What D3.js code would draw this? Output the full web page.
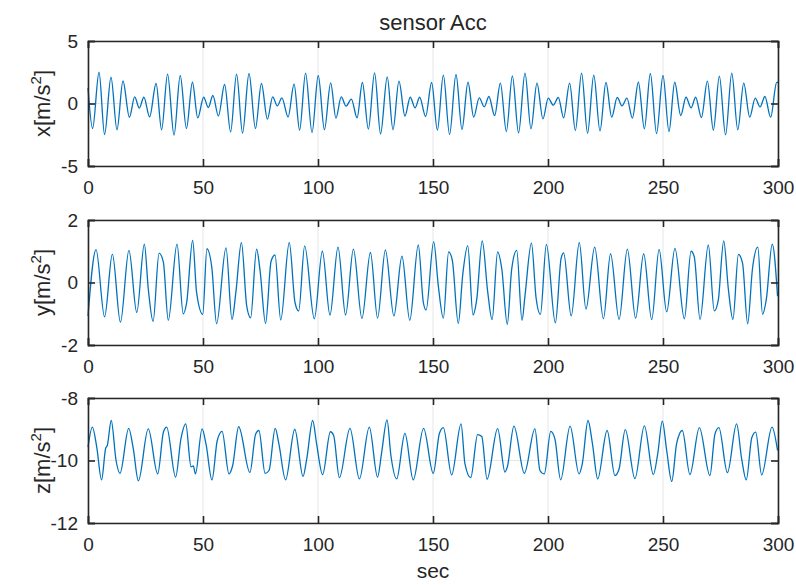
<!DOCTYPE html>
<html>
<head>
<meta charset="utf-8">
<script src="https://cdn.jsdelivr.net/npm/d3@7"></script>
<style>
  body { margin: 0; background: #fff; }
  text { font-family: "Liberation Sans", Arial, Helvetica, sans-serif; fill: #262626; }
</style>
</head>
<body>
<div class="chart"></div>
<script>
// sensor Acc - three stacked panels (peaks, troughs, shoulders)

// x axis ticks (sec)
var secTicks = [0, 50, 100, 150, 200, 250, 300];

// y ticks for each panel
var accXTicks = [-5, 0, 5];
var accYTicks = [-2, 0, 2];
var accZTicks = [-12, -10, -8];

// [sec, value] pairs
var accX = [[0,1.25],[2.0,-2.0],[4.8,2.5],[7.2,-2.48],[10.0,2.1],[12.6,-2.1],[15.2,1.8],[18.0,-1.1],[20.3,0.53],[22.3,-0.37],[24.3,0.5],[26.8,-1.07],[29.6,1.6],[32.0,-2.1],[34.6,2.35],[37.4,-2.53],[40.1,2.24],[42.8,-2.0],[45.4,1.7],[47.7,-1.15],[50.3,0.5],[52.3,-0.32],[54.3,0.64],[56.7,-1.0],[59.4,1.52],[62.0,-2.27],[64.6,2.35],[67.2,-2.37],[70.0,2.4],[72.8,-2.0],[75.4,1.6],[78.0,-1.25],[80.3,0.53],[82.3,-0.19],[84.3,0.45],[87.0,-1.07],[89.6,1.55],[92.0,-2.13],[94.6,2.43],[97.4,-2.32],[100.1,2.24],[102.8,-2.1],[105.5,1.65],[107.8,-1.17],[110.1,0.53],[112.2,-0.21],[114.5,0.35],[117.0,-1.15],[119.3,1.68],[121.9,-2.05],[124.6,2.45],[127.2,-2.43],[130.1,2.13],[132.6,-2.1],[135.2,1.79],[137.8,-1.0],[140.1,0.5],[142.2,-0.35],[144.2,0.5],[146.8,-1.04],[149.4,1.68],[151.9,-2.13],[154.5,2.27],[157.2,-2.48],[160.0,2.32],[162.6,-2.08],[165.2,1.7],[167.7,-1.09],[170.1,0.45],[172.3,-0.27],[174.3,0.56],[176.8,-0.96],[179.3,1.63],[181.9,-2.24],[184.5,2.21],[187.2,-2.35],[190.0,2.43],[192.6,-2.03],[195.2,1.63],[197.8,-1.23],[200.1,0.43],[202.3,-0.13],[204.5,0.48],[206.8,-1.15],[209.4,1.63],[211.9,-2.16],[214.6,2.43],[217.2,-2.37],[219.9,2.27],[222.6,-2.19],[225.2,1.68],[227.7,-1.09],[230.1,0.48],[232.2,-0.19],[234.3,0.43],[236.7,-1.17],[239.3,1.7],[241.9,-2.03],[244.5,2.4],[247.2,-2.4],[250.0,2.24],[252.6,-2.24],[255.1,1.7],[257.7,-0.96],[260.0,0.5],[262.2,-0.35],[264.2,0.5],[266.7,-1.12],[269.3,1.79],[271.9,-2.13],[274.5,2.19],[277.2,-2.51],[279.9,2.43],[282.5,-2.1],[285.1,1.63],[287.7,-1.09],[290.1,0.43],[292.2,-0.27],[294.3,0.56],[296.8,-1.09],[299.4,1.68],[300,1.7]];

var accY = [[0,-1.07],[3.5,1.05],[7.2,-1.1],[10.6,0.91],[14.1,-1.27],[17.8,1.03],[21.2,-0.96],[24.5,1.23],[26.2,-0.2],[28.3,-1.24],[30.9,0.94],[32.75,0.66],[34.9,-1.21],[38.7,1.23],[41.4,-1.0],[42.9,-0.64],[45.5,1.35],[47.2,-0.31],[49.9,-1.02],[51.7,1.08],[53.8,0.5],[55.9,-1.32],[60.0,1.11],[62.6,-1.18],[64.3,-0.31],[66.7,1.28],[69.0,-0.75],[70.7,-1.13],[73.3,1.07],[74.8,0.39],[77.2,-1.31],[79.6,0.68],[81.3,0.88],[83.8,-1.2],[87.5,1.28],[90.0,-0.64],[91.6,-0.91],[94.2,1.17],[98.4,-1.16],[101.9,1.0],[105.2,-1.04],[108.7,1.13],[112.0,-1.04],[115.4,1.07],[119.1,-1.15],[122.8,0.96],[125.9,-1.14],[129.3,1.04],[133.0,-1.07],[136.5,0.84],[139.9,-1.21],[143.6,1.2],[145.8,-0.64],[147.0,-0.88],[150.3,1.31],[152.3,-0.1],[154.5,-1.14],[156.8,0.98],[158.4,0.71],[161.0,-1.31],[162.9,0.23],[165.1,1.18],[167.4,-1.04],[169.0,-0.55],[171.4,1.33],[173.8,-0.31],[175.7,-1.19],[178.1,0.98],[179.9,0.44],[182.3,-1.34],[184.2,0.42],[186.4,1.03],[188.7,-1.21],[190.0,-0.42],[192.8,1.26],[194.8,-0.48],[196.7,-1.02],[199.3,1.22],[203.2,-1.29],[205.7,0.77],[206.8,0.95],[210.1,-1.07],[213.6,1.28],[216.5,-0.85],[220.3,1.13],[224.1,-1.16],[227.2,0.92],[230.9,-1.18],[234.5,1.07],[238.1,-1.14],[241.6,0.92],[245.1,-1.19],[248.3,1.06],[251.6,-0.94],[255.2,1.09],[259.3,-1.16],[262.2,1.0],[263.6,0.82],[266.1,-1.18],[269.7,1.2],[272.3,-0.91],[274.0,-0.58],[276.4,1.33],[278.4,-0.2],[280.4,-1.18],[282.8,0.9],[284.6,0.61],[286.8,-1.32],[288.9,0.44],[291.2,1.13],[293.3,-1.02],[294.9,-0.55],[297.5,1.23],[299.8,-0.44]];

var accZ = [[0,-9.57],[1.9,-8.93],[3.8,-9.57],[5.9,-10.62],[7.7,-9.6],[8.4,-9.52],[10.1,-8.72],[12.2,-10.0],[13.9,-10.41],[17.7,-8.97],[19.7,-9.63],[21.9,-10.65],[26.2,-8.99],[30.3,-10.43],[32.8,-9.09],[34.2,-8.93],[38.1,-10.53],[40.4,-9.31],[42.5,-8.83],[44.8,-10.2],[45.8,-10.17],[46.7,-10.43],[49.6,-8.99],[51.3,-9.47],[53.9,-10.62],[56.2,-9.36],[58.3,-9.07],[61.3,-10.43],[62.9,-10.16],[65.5,-8.92],[70.4,-10.38],[72.9,-9.15],[74.3,-9.04],[77.0,-10.41],[78.7,-10.32],[81.4,-8.97],[83.0,-9.47],[85.9,-10.62],[89.9,-9.0],[93.5,-10.51],[95.1,-9.95],[97.7,-8.72],[99.4,-9.47],[102.0,-10.45],[105.4,-9.08],[106.8,-9.2],[109.3,-10.55],[113.9,-8.97],[118.0,-10.59],[122.3,-8.93],[125.9,-10.53],[127.7,-9.73],[130.0,-8.7],[131.7,-9.84],[134.2,-10.59],[137.8,-9.13],[141.4,-10.62],[145.9,-8.97],[150.1,-10.41],[152.8,-9.13],[154.5,-8.95],[158.1,-10.46],[162.2,-8.83],[163.9,-10.11],[166.4,-10.55],[169.4,-9.17],[171.2,-9.23],[173.5,-10.6],[178.1,-8.98],[181.3,-10.37],[182.3,-10.21],[185.2,-8.9],[189.7,-10.41],[194.3,-8.99],[196.5,-10.32],[198.4,-10.43],[201.2,-9.07],[203.0,-9.31],[205.5,-10.62],[209.6,-8.9],[213.5,-10.43],[214.9,-10.11],[217.4,-8.72],[219.3,-9.45],[221.6,-10.59],[225.7,-9.04],[229.1,-10.48],[230.9,-10.27],[233.6,-9.01],[237.8,-10.58],[241.9,-8.89],[245.8,-10.45],[247.7,-9.79],[249.7,-8.74],[251.6,-9.68],[253.8,-10.67],[255.9,-9.47],[258.4,-9.04],[261.7,-10.45],[265.8,-8.95],[270.4,-10.48],[272.6,-9.15],[274.3,-8.95],[278.0,-10.39],[282.0,-8.83],[284.2,-9.95],[286.2,-10.62],[288.6,-9.27],[290.3,-9.09],[292.9,-10.46],[297.4,-8.93],[299.8,-9.68]];

// ================= layout =================
var svgWidth = 796;
var svgHeight = 585;
var plotLeft = 88;
var plotWidth = 690;
var plotHeight = 125;
var panelTops = [41, 220, 398];

var axisColor = "#262626";
var gridColor = "#e6e6e6";
var lineColor = "#0072BD";
var tickLen = 7;

var panels = [
  { data: accX, ticks: accXTicks, name: "x" },
  { data: accY, ticks: accYTicks, name: "y" },
  { data: accZ, ticks: accZTicks, name: "z" }
];

// plain hyphen minus like the original, no decimals
function tickFmt(d) { return String(d); }

var svg = d3.select(".chart")
  .append("svg")
  .attr("width", svgWidth)
  .attr("height", svgHeight);

var xScale = d3.scaleLinear()
  .domain([0, 300])
  .range([0, plotWidth]);

panels.forEach(function(p, i) {
  var g = svg.append("g")
    .attr("transform", `translate(${plotLeft}, ${panelTops[i]})`);

  var yScale = d3.scaleLinear()
    .domain(d3.extent(p.ticks))
    .range([plotHeight, 0]);

  // grid
  g.append("g").selectAll("line")
    .data(secTicks)
    .enter()
    .append("line")
    .attr("x1", d => xScale(d)).attr("x2", d => xScale(d))
    .attr("y1", 0).attr("y2", plotHeight)
    .attr("stroke", gridColor).attr("stroke-width", 1);

  g.append("g").selectAll("line")
    .data(p.ticks)
    .enter()
    .append("line")
    .attr("x1", 0).attr("x2", plotWidth)
    .attr("y1", d => yScale(d)).attr("y2", d => yScale(d))
    .attr("stroke", gridColor).attr("stroke-width", 1);

  // the signal
  var lineGenerator = d3.line()
    .x(d => xScale(d[0]))
    .y(d => yScale(d[1]))
    .curve(d3.curveMonotoneX);

  g.append("path")
    .attr("fill", "none")
    .attr("stroke", lineColor)
    .attr("stroke-width", 1.3)
    .attr("d", lineGenerator(p.data));

  // axes - ticks point inward, box on
  var bottomAxis = d3.axisBottom(xScale).tickValues(secTicks).tickSize(-tickLen).tickPadding(tickLen + 8).tickFormat(tickFmt);
  var topAxis = d3.axisTop(xScale).tickValues(secTicks).tickSize(-tickLen).tickFormat("");
  var leftAxis = d3.axisLeft(yScale).tickValues(p.ticks).tickSize(-tickLen).tickPadding(tickLen + 3).tickFormat(tickFmt);
  var rightAxis = d3.axisRight(yScale).tickValues(p.ticks).tickSize(-tickLen).tickFormat("");

  var axes = [
    g.append("g").attr("transform", `translate(0, ${plotHeight})`).call(bottomAxis),
    g.append("g").call(topAxis),
    g.append("g").call(leftAxis),
    g.append("g").attr("transform", `translate(${plotWidth}, 0)`).call(rightAxis)
  ];
  axes.forEach(function(a) {
    a.selectAll(".domain").attr("stroke", axisColor).attr("stroke-width", 1.6);
    a.selectAll(".tick line").attr("stroke", axisColor).attr("stroke-width", 1.6);
    a.selectAll(".tick text")
      .attr("fill", axisColor)
      .style("font-size", "19px")
      .style("font-family", "'Liberation Sans', Arial, sans-serif");
  });

  // y label with superscript
  var yLab = svg.append("text")
    .attr("transform", `translate(50, ${panelTops[i] + plotHeight / 2}) rotate(-90)`)
    .attr("text-anchor", "middle")
    .style("font-size", "22px");
  yLab.append("tspan").text(p.name + "[m/s");
  yLab.append("tspan").attr("dy", -9).style("font-size", "15px").text("2");
  yLab.append("tspan").attr("dy", 9).text("]");
});

// title and x label
svg.append("text")
  .attr("x", plotLeft + plotWidth / 2)
  .attr("y", 30)
  .attr("text-anchor", "middle")
  .style("font-size", "22px")
  .text("sensor Acc");

svg.append("text")
  .attr("x", plotLeft + plotWidth / 2)
  .attr("y", 578)
  .attr("text-anchor", "middle")
  .style("font-size", "21px")
  .text("sec");
</script>
</body>
</html>
